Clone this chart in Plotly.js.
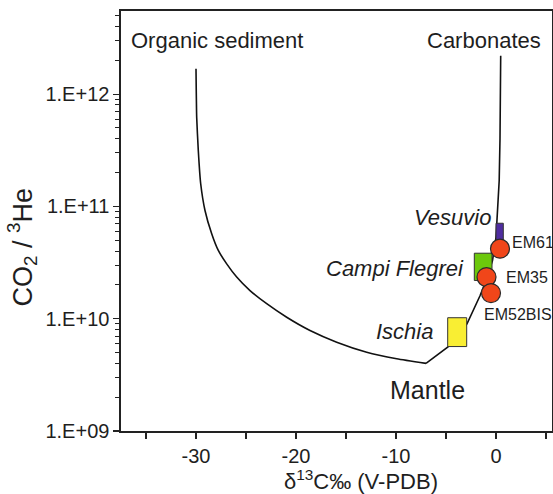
<!DOCTYPE html>
<html>
<head>
<meta charset="utf-8">
<script src="https://cdn.plot.ly/plotly-3.0.1.min.js"></script>
<style>html,body{margin:0;padding:0;background:#fff;}#chart{width:553px;height:494px;}</style>
</head>
<body>
<div id="chart"></div>
<script>
// Mixing curve: mantle -> organic sediment
const organicX = [-30.0, -29.93, -29.77, -29.53, -29.1, -28.43, -27.77, -26.93, -25.93, -24.6, -22.93, -20.93, -18.6, -15.93, -12.93, -9.93, -7.0];
const organicY = [1.68e12, 6.2e11, 3.15e11, 1.59e11, 9.2e10, 5.7e10, 4.05e10, 3.08e10, 2.35e10, 1.78e10, 1.36e10, 1.03e10, 7.85e9, 6.18e9, 5.03e9, 4.4e9, 4.0e9];
// Mixing curve: mantle -> carbonates
const carbX = [-7.0, -5.6, -4.8, -2.9, -1.6, -0.9, -0.35, 0.0, 0.13, 0.32, 0.4, 0.47];
const carbY = [4.0e9, 5.0e9, 5.6e9, 9.0e9, 1.6e10, 2.3e10, 3.3e10, 5.3e10, 8.0e10, 1.7e11, 4.0e11, 2.2e12];

// Volcano fields (ranges): [min, max]
const fieldNames = ["Ischia", "Campi Flegrei", "Vesuvio"];
const fieldX = [[-4.83, -2.93], [-2.17, -0.4], [0.0, 0.73]];
const fieldY = [[5.65e9, 1.02e10], [2.19e10, 3.83e10], [4.5e10, 7.08e10]];
const fieldColors = ["#f9ee33", "#6cc80c", "#4f2da0"];

// Samples
const sampleNames = ["EM61", "EM35", "EM52BIS"];
const sampleX = [0.4, -0.95, -0.5];
const sampleY = [4.2e10, 2.35e10, 1.69e10];

// Tick labels
const xTickVals = [-30, -20, -10, 0];
const xTickText = ["-30", "-20", "-10", "0"];
const yTickVals = [1e9, 1e10, 1e11, 1e12];
const yTickText = ["1.E+09", "1.E+10", "1.E+11", "1.E+12"];

const FONT = "Liberation Sans, Arial, sans-serif";
const TXT = "#1e1e1e";
const NB = "\u00a0";
const ZW = "\u200b";

const traces = [];
traces.push({x: organicX, y: organicY, mode: "lines", line: {color: "#111", width: 1.6, shape: "spline", smoothing: 0.5}, hoverinfo: "skip", showlegend: false});
traces.push({x: carbX, y: carbY, mode: "lines", line: {color: "#111", width: 1.6}, hoverinfo: "skip", showlegend: false});
for (let i = 0; i < fieldNames.length; i++) {
  const [x0, x1] = fieldX[i];
  const [y0, y1] = fieldY[i];
  traces.push({
    x: [x0, x1, x1, x0, x0], y: [y0, y0, y1, y1, y0],
    mode: "lines", fill: "toself", fillcolor: fieldColors[i],
    line: {color: "#333", width: 1}, name: fieldNames[i], showlegend: false
  });
}
traces.push({
  x: sampleX, y: sampleY, text: sampleNames, mode: "markers",
  marker: {size: 19, color: "#f0461a", line: {color: "#2a2a2a", width: 1.2}},
  showlegend: false
});

const minorY = [];
for (let d = 9; d <= 12; d++) for (let k = 2; k <= 9; k++) minorY.push(k * Math.pow(10, d));

const ann = (text, x, y, size, xanchor) => ({
  text, x, y, xref: "x", yref: "y", showarrow: false, xanchor: xanchor || "center", yanchor: "middle",
  font: {family: FONT, size, color: TXT}
});

const layout = {
  width: 553, height: 494,
  margin: {l: 121, r: 1, t: 11, b: 63},
  paper_bgcolor: "#fff", plot_bgcolor: "#fff",
  showlegend: false,
  font: {family: FONT, color: TXT},
  xaxis: {
    range: [-37.5, 5.6], tickmode: "array", tickvals: xTickVals, ticktext: xTickText,
    ticks: "outside", ticklen: 6, tickwidth: 1.2, tickcolor: "#222",
    minor: {dtick: 5, tick0: 0, ticks: "outside", ticklen: 6, tickwidth: 1.2, tickcolor: "#222", showgrid: false},
    showline: true, linecolor: "#222", linewidth: 1.6, mirror: true,
    showgrid: false, zeroline: false,
    tickfont: {family: FONT, size: 20, color: TXT},
    title: {text: ZW + NB.repeat(8) + "δ<sup>13</sup>C‰ (V-PDB)", font: {family: FONT, size: 22, color: TXT}, standoff: 5}
  },
  yaxis: {
    type: "log", range: [9, 12.74],
    tickmode: "array", tickvals: yTickVals, ticktext: yTickText,
    ticks: "outside", ticklen: 6, tickwidth: 1.2, tickcolor: "#222",
    minor: {tickmode: "array", tickvals: minorY, ticks: "outside", ticklen: 4, tickwidth: 1, tickcolor: "#222", showgrid: false},
    showline: true, linecolor: "#222", linewidth: 1.6, mirror: true,
    showgrid: false, zeroline: false,
    tickfont: {family: FONT, size: 20, color: TXT},
    title: {text: "CO<sub>2</sub> / <sup>3</sup>He" + NB.repeat(7) + ZW, font: {family: FONT, size: 27, color: TXT}, standoff: 5}
  },
  annotations: [
    ann("Organic sediment", -27.93, 12.477, 22),
    ann("Carbonates", -1.25, 12.477, 22),
    ann("<i>Vesuvio</i>", -0.27, 10.898, 22, "right"),
    ann("<i>Campi Flegrei</i>", -2.97, 10.447, 22, "right"),
    ann("<i>Ischia</i>", -6.1, 9.889, 22, "right"),
    ann("Mantle", -6.85, 9.361, 25),
    ann(sampleNames[0], 1.4, 10.681, 16, "left"),
    ann(sampleNames[1], 0.8, 10.364, 16, "left"),
    ann(sampleNames[2], -1.43, 10.035, 16, "left")
  ]
};

Plotly.newPlot("chart", traces, layout, {staticPlot: true, displayModeBar: false});
</script>
</body>
</html>
